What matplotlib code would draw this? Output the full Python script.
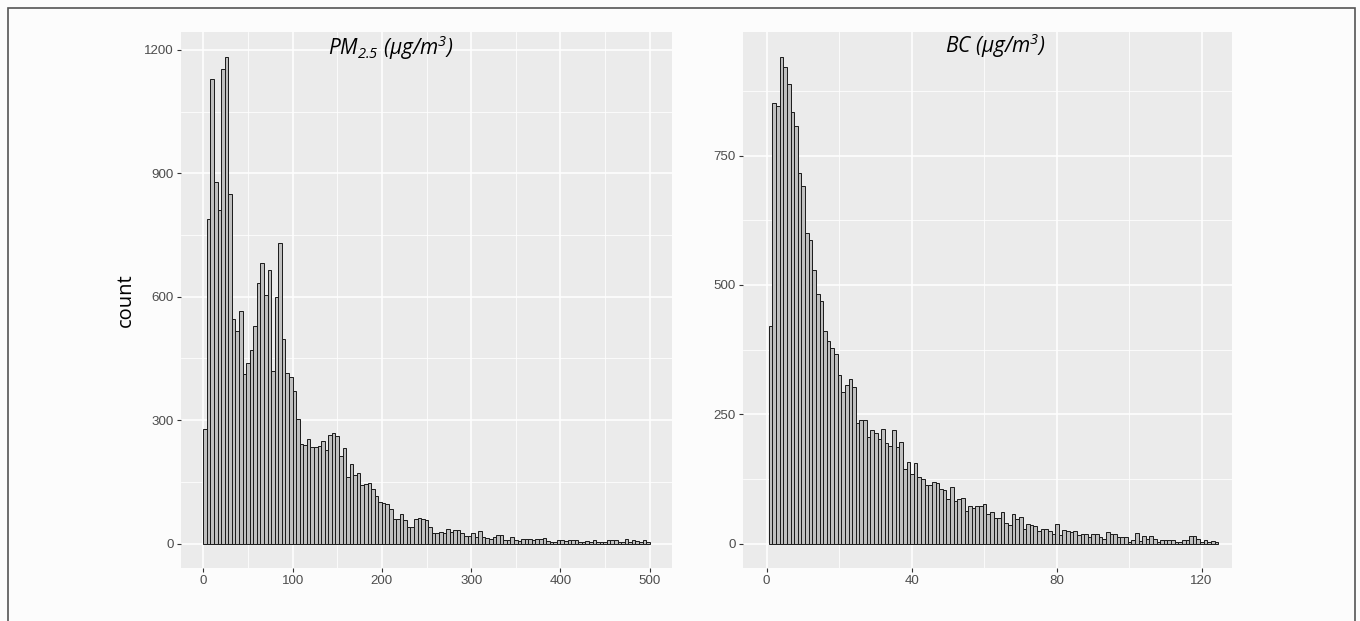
"""
Two histograms side by side, ggplot look: PM2.5 and black carbon counts.
"""
import numpy as np
import matplotlib
matplotlib.use("Agg")
from matplotlib import pyplot as plt
from matplotlib.patches import Rectangle

# PM2.5 histogram, 125 bins of width 4 from 0 to 500
pm_bin_start = 0.0
pm_bin_width = 4.0
pm_counts = [
    279, 790, 1128, 878, 810, 1154, 1183, 849, 547, 517,
    566, 413, 440, 471, 529, 634, 682, 605, 666, 419,
    600, 731, 498, 414, 405, 372, 304, 243, 241, 254,
    235, 235, 238, 249, 228, 264, 270, 262, 213, 232,
    161, 194, 167, 172, 142, 144, 147, 132, 115, 101,
    100, 97, 85, 60, 60, 72, 57, 41, 41, 59,
    63, 61, 57, 41, 27, 25, 28, 25, 36, 29,
    33, 33, 25, 19, 19, 25, 17, 30, 17, 13,
    12, 17, 22, 21, 8, 10, 17, 10, 7, 11,
    11, 11, 8, 12, 12, 13, 6, 4, 5, 8,
    8, 7, 8, 8, 8, 4, 4, 6, 4, 8,
    4, 3, 5, 8, 8, 8, 3, 3, 11, 4,
    8, 7, 4, 8, 5,
]
pm_xticks = [0, 100, 200, 300, 400, 500]
pm_yticks = [0, 300, 600, 900, 1200]

# BC histogram, 124 bins of width 1
bc_bin_start = 0.6
bc_bin_width = 1.0
bc_counts = [
    421, 851, 846, 941, 921, 888, 835, 807, 716, 692,
    600, 586, 528, 483, 469, 412, 392, 378, 367, 326,
    294, 306, 319, 303, 234, 240, 239, 206, 219, 214,
    203, 222, 195, 188, 219, 186, 197, 144, 157, 134,
    156, 129, 125, 114, 114, 120, 117, 105, 103, 86,
    109, 83, 87, 89, 64, 73, 68, 73, 73, 76,
    58, 61, 50, 50, 61, 40, 37, 57, 48, 52,
    28, 39, 37, 35, 24, 28, 28, 24, 19, 39,
    17, 26, 24, 23, 24, 16, 19, 19, 13, 19,
    19, 13, 9, 23, 19, 19, 13, 12, 13, 4,
    8, 21, 6, 15, 9, 15, 9, 4, 8, 8,
    8, 8, 3, 3, 7, 8, 15, 15, 10, 4,
    8, 4, 6, 3,
]
bc_xticks = [0, 40, 80, 120]
bc_yticks = [0, 250, 500, 750]

W, H = 1360, 621
PANEL = "#ebebeb"
FILL = "#bfbfbf"
EDGE = "#1a1a1a"


def style_axis(ax, xticks, yticks, xlim, ylim):
    ax.set_facecolor(PANEL)
    for s in ax.spines.values():
        s.set_visible(False)
    ax.set_xlim(*xlim)
    ax.set_ylim(*ylim)
    ax.set_xticks(xticks)
    ax.set_yticks(yticks)
    xminor = [(a + b) / 2 for a, b in zip(xticks[:-1], xticks[1:])]
    yminor = [(a + b) / 2 for a, b in zip(yticks[:-1], yticks[1:])]
    step_y = yticks[1] - yticks[0]
    if yticks[-1] + step_y / 2 < ylim[1]:
        yminor.append(yticks[-1] + step_y / 2)
    ax.set_xticks(xminor, minor=True)
    ax.set_yticks(yminor, minor=True)
    ax.grid(which="major", color="white", linewidth=1.1)
    ax.grid(which="minor", color="white", linewidth=0.55)
    ax.set_axisbelow(True)
    ax.tick_params(which="major", length=3.2, width=0.8, color="#333333",
                   labelcolor="#4d4d4d", labelsize=9.6, pad=2)
    ax.tick_params(which="minor", length=0)
    for lab in ax.get_xticklabels() + ax.get_yticklabels():
        lab.set_family("Liberation Sans")


def draw_hist(ax, start, width, counts):
    counts = np.asarray(counts, dtype=float)
    lefts = start + width * np.arange(len(counts))
    ax.bar(lefts, counts, width=width, align="edge", color=FILL,
           edgecolor=EDGE, linewidth=0.7)


def main():
    plt.rcParams["mathtext.fontset"] = "custom"
    plt.rcParams["mathtext.rm"] = "Open Sans:italic"
    plt.rcParams["mathtext.it"] = "Open Sans:italic"

    fig = plt.figure(figsize=(W / 100, H / 100), dpi=100)
    fig.patch.set_facecolor("#fcfcfc")

    bottom = (H - 568) / H
    height = (568 - 32.5) / H

    # left: PM2.5
    ax1 = fig.add_axes([181 / W, bottom, 491 / W, height])
    draw_hist(ax1, pm_bin_start, pm_bin_width, pm_counts)
    style_axis(ax1, pm_xticks, pm_yticks, (-25, 525), (-59, 1242))
    ax1.set_ylabel("count", fontsize=14.5, family="Open Sans", labelpad=6)
    ax1.text(210, 1205, r"$PM_{2.5}$ ($\mu$g/m$^3$)", fontsize=15,
             family="Open Sans", style="italic", ha="center", va="center")

    # right: BC
    ax2 = fig.add_axes([743.3 / W, bottom, (1232 - 743.3) / W, height])
    draw_hist(ax2, bc_bin_start, bc_bin_width, bc_counts)
    style_axis(ax2, bc_xticks, bc_yticks, (-6.45, 128.4), (-47, 988))
    ax2.text(63, 963, r"$BC$ ($\mu$g/m$^3$)", fontsize=15,
             family="Open Sans", style="italic", ha="center", va="center")

    # outer frame around the figure
    fig.patches.append(Rectangle((8 / W, -0.05), (1355 - 8) / W, 1.05 - 8 / H,
                                 transform=fig.transFigure, fill=False,
                                 edgecolor="#555555", linewidth=1.2))

    fig.savefig("out.png", dpi=100, facecolor=fig.get_facecolor())


if __name__ == "__main__":
    main()
